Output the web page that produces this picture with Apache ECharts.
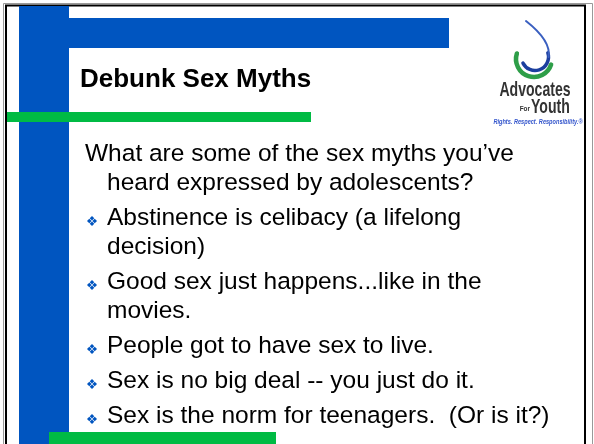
<!DOCTYPE html>
<html>
<head>
<meta charset="utf-8">
<script src="https://cdn.jsdelivr.net/npm/echarts@6/dist/echarts.min.js"></script>
<style>
html,body{margin:0;padding:0;background:#fff;}
#c{width:594px;height:444px;}
</style>
</head>
<body>
<div id="c"></div>
<script>
// ---- content ----
const titleText = "Debunk Sex Myths";
const introLines = ["What are some of the sex myths you\u2019ve", "heard expressed by adolescents?"];
const bulletItems = [
  ["Abstinence is celibacy (a lifelong", "decision)"],
  ["Good sex just happens...like in the", "movies."],
  ["People got to have sex to live."],
  ["Sex is no big deal -- you just do it."],
  ["Sex is the norm for teenagers.  (Or is it?)"]
];
const logoWords = ["Advocates", "For", "Youth", "Rights. Respect. Responsibility.\u00AE"];

// ---- style ----
const BLUE = '#0055C0';
const GREEN = '#00BB44';
const FONT = '"Liberation Sans", Arial, sans-serif';
const BODY_SIZE = 24.5;
const LINE_GAP = 29, PARA_GAP = 35;

const chart = echarts.init(document.getElementById('c'), null, {renderer: 'canvas'});
const els = [];

// frame
els.push({type:'rect', shape:{x:3.5,y:3.5,width:589,height:460}, style:{fill:'none', stroke:'#999', lineWidth:1}, z:1});
els.push({type:'rect', shape:{x:6,y:5.5,width:579,height:460}, style:{fill:'#fff', stroke:'#000', lineWidth:2}, z:2});

// decorative bars
els.push({type:'rect', shape:{x:19,y:6,width:50,height:440}, style:{fill:BLUE}, z:3});
els.push({type:'rect', shape:{x:69,y:18,width:380,height:30}, style:{fill:BLUE}, z:3});
els.push({type:'rect', shape:{x:7,y:112,width:304,height:10}, style:{fill:GREEN}, z:4});
els.push({type:'rect', shape:{x:49,y:432,width:227,height:14}, style:{fill:GREEN}, z:4});

// title
els.push({type:'text', x:80, y:89 - 0.36*26, style:{text:titleText, font:'bold 26px ' + FONT, fill:'#000', verticalAlign:'middle'}, z:10});

function addLine(txt, x, baseline){
  els.push({type:'text', x:x, y:baseline - 0.36*BODY_SIZE, style:{text:txt, font:BODY_SIZE + 'px ' + FONT, fill:'#000', verticalAlign:'middle'}, z:10});
}
function addBullet(cx, cy){
  const d = 2.7, h = 2.3;
  [[0,-d],[d,0],[0,d],[-d,0]].forEach(function(o){
    const x = cx + o[0], y = cy + o[1];
    els.push({type:'polygon', shape:{points:[[x,y-h],[x+h,y],[x,y+h],[x-h,y]]}, style:{fill:BLUE}, z:10});
  });
}

let base = 163;
introLines.forEach(function(t, i){
  addLine(t, i === 0 ? 85 : 107, base);
  base += LINE_GAP;
});
base += PARA_GAP - LINE_GAP;
bulletItems.forEach(function(item){
  addBullet(92, base - 6);
  item.forEach(function(t){
    addLine(t, 107, base);
    base += LINE_GAP;
  });
  base += PARA_GAP - LINE_GAP;
});

// logo: drop swirl
els.push({type:'arc', shape:{cx:534, cy:59, r:18, startAngle:Math.PI*0.1, endAngle:Math.PI*1.1, clockwise:true}, style:{stroke:'#2E9E48', lineWidth:4.5, fill:'none', lineCap:'round'}, z:10});
els.push({type:'arc', shape:{cx:535, cy:57, r:13.5, startAngle:Math.PI*1.9, endAngle:Math.PI*0.85, clockwise:true}, style:{stroke:'#1C3F9E', lineWidth:3.5, fill:'none', lineCap:'round'}, z:11});
els.push({type:'bezierCurve', shape:{x1:526, y1:21, cpx1:540, cpy1:32, cpx2:551, cpy2:44, x2:548.5, y2:57}, style:{stroke:'#3A5FC0', lineWidth:2, fill:'none', lineCap:'round'}, z:11});

// logo text (condensed via horizontal scale inside a group)
function condensedText(txt, x, y, sx, font, fill, align){
  els.push({type:'group', x:x, y:y, scaleX:sx, scaleY:1, z:10, children:[
    {type:'text', x:0, y:0, style:{text:txt, font:font, fill:fill, align:align, verticalAlign:'middle'}, z:10}
  ]});
}
condensedText(logoWords[0], 535, 90, 0.67, 'bold 21px ' + FONT, '#333', 'center');
condensedText(logoWords[1], 530, 109, 0.8, 'bold 8px ' + FONT, '#333', 'right');
condensedText(logoWords[2], 531, 107.5, 0.67, 'bold 21px ' + FONT, '#333', 'left');
condensedText(logoWords[3], 538, 122, 0.8, 'italic bold 7px ' + FONT, '#3355CC', 'center');

chart.setOption({
  animation:false,
  backgroundColor:'#fff',
  graphic:{elements:els}
});
</script>
</body>
</html>
